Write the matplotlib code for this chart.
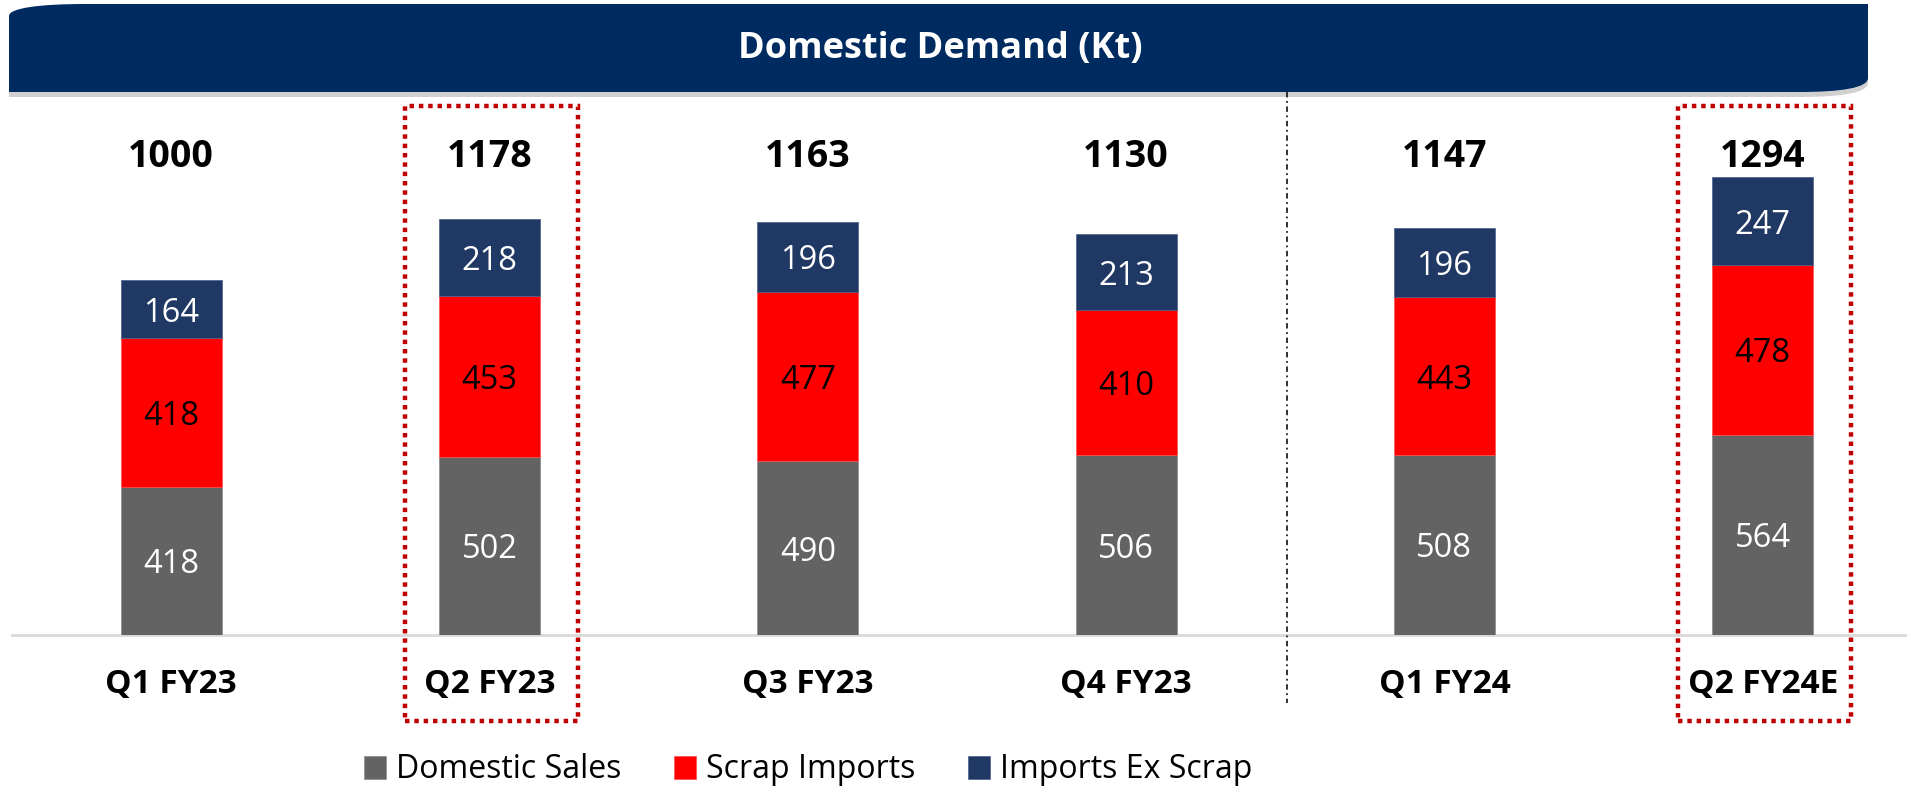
import matplotlib.pyplot as plt
from matplotlib.path import Path
from matplotlib.patches import PathPatch, Rectangle

plt.rcParams['font.family'] = ['Open Sans', 'DejaVu Sans']

# data
quarters = ['Q1 FY23', 'Q2 FY23', 'Q3 FY23', 'Q4 FY23', 'Q1 FY24', 'Q2 FY24E']
domestic_sales = [418, 502, 490, 506, 508, 564]
scrap_imports = [418, 453, 477, 410, 443, 478]
imports_ex_scrap = [164, 218, 196, 213, 196, 247]
totals = ['1000', '1178', '1163', '1130', '1147', '1294']
highlighted = [1, 5]

c_dom, c_scrap, c_imp = '#636363', '#ff0000', '#203864'
navy = '#002b61'

W, H = 1908, 791
fig = plt.figure(figsize=(W / 100, H / 100), dpi=100)

# overlay in pixel coords for the header banner
ov = fig.add_axes([0, 0, 1, 1])
ov.set_xlim(0, W)
ov.set_ylim(H, 0)
ov.axis('off')


def banner(dy):
    verts = [(9, 92 + dy), (9, 16 + dy), (9, 8 + dy), (40, 4 + dy), (85, 4 + dy),
             (1868, 4 + dy), (1868, 78 + dy), (1868, 88 + dy), (1840, 92 + dy),
             (1800, 92 + dy), (9, 92 + dy), (9, 92 + dy)]
    codes = [Path.MOVETO, Path.LINETO, Path.CURVE4, Path.CURVE4, Path.CURVE4,
             Path.LINETO, Path.LINETO, Path.CURVE4, Path.CURVE4, Path.CURVE4,
             Path.LINETO, Path.CLOSEPOLY]
    return Path(verts, codes)


ov.add_patch(PathPatch(banner(5), facecolor='#d0d0d0', edgecolor='none'))
ov.add_patch(PathPatch(banner(0), facecolor=navy, edgecolor='none'))
ov.text(940, 49, 'Domestic Demand (Kt)', color='white', fontsize=26,
        fontweight='bold', ha='center', va='center')

# main chart
px = 0.355  # pixels per unit
base = 635
ax = fig.add_axes([12 / W, 1 - base / H, 1896 / W, 535 / H])
ax.patch.set_alpha(0)
ax.set_xlim((12 - 171.2) / 318.3, (1908 - 171.2) / 318.3)
ax.set_ylim(0, 535 / px)
ax.axis('off')

x = list(range(len(quarters)))
bw = 0.317
bottom2 = domestic_sales
bottom3 = [a + b for a, b in zip(domestic_sales, scrap_imports)]
b1 = ax.bar(x, domestic_sales, bw, color=c_dom, edgecolor='#8a8a8a', linewidth=0.5,
            label='Domestic Sales')
b2 = ax.bar(x, scrap_imports, bw, bottom=bottom2, color=c_scrap, edgecolor='#ff5050',
            linewidth=0.5, label='Scrap Imports')
b3 = ax.bar(x, imports_ex_scrap, bw, bottom=bottom3, color=c_imp, edgecolor='#4a5f88',
            linewidth=0.5, label='Imports Ex Scrap')
for cont, col in [(b1, 'white'), (b2, 'black'), (b3, 'white')]:
    for t in ax.bar_label(cont, label_type='center', color=col, fontsize=23.5):
        t.set_va('center_baseline')

ax.plot([ax.get_xlim()[0], ax.get_xlim()[1]], [0, 0], color='#d9d9d9', lw=2,
        clip_on=False, zorder=0)

for i, q in enumerate(quarters):
    ax.text(i, (base - 167) / px, totals[i], ha='center', va='baseline',
            fontsize=27, fontweight='bold')
    ax.text(i, (base - 693) / px, q, ha='center', va='baseline',
            fontsize=24, fontweight='bold')

# highlight boxes
half = 86.5 / 318.3
y_top = (base - 106) / px
y_bot = (base - 721) / px
for i in highlighted:
    ax.add_patch(Rectangle((i + 0.006 - half, y_bot), 2 * half, y_top - y_bot,
                           fill=False, edgecolor='#c00000', lw=3.2,
                           linestyle=(0, (1, 1.1)), clip_on=False))

# FY divider
ax.plot([3.506, 3.506], [(base - 92) / px, (base - 703) / px], color='#222222',
        lw=1.3, linestyle=(0, (3, 2, 1, 2)), clip_on=False)

fig.legend(handles=[b1, b2, b3], loc='center left',
           bbox_to_anchor=(364 / W, 1 - 770 / H), ncol=3, frameon=False,
           fontsize=23, handlelength=0.7, handleheight=0.7, handletextpad=0.3,
           columnspacing=1.65, borderpad=0, borderaxespad=0)

fig.savefig('out.png', dpi=100)
